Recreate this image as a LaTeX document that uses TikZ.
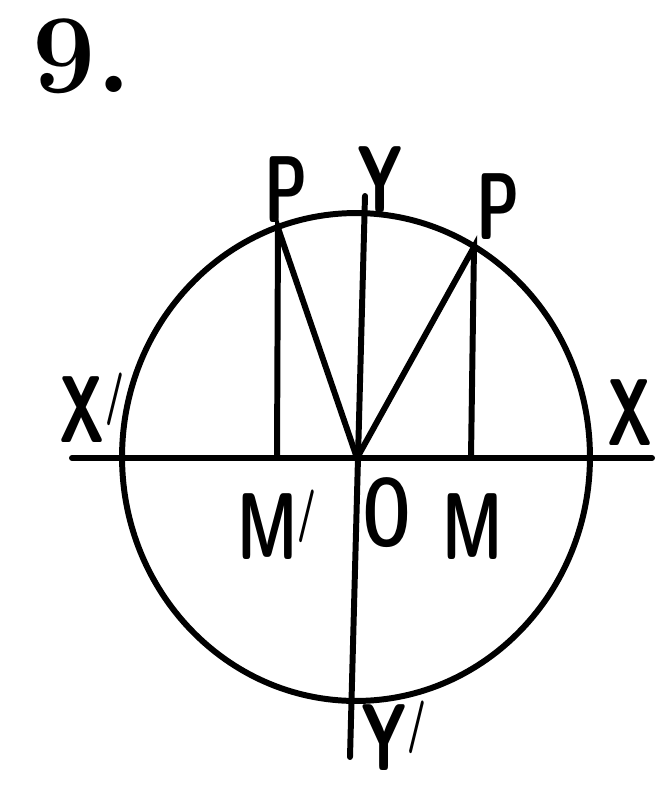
\documentclass[tikz,border=0pt]{standalone}
\usepackage{fontspec}
\usetikzlibrary{calc}
\tikzset{lbl/.style={font=\sffamily\bfseries\fontsize{54}{54}\selectfont,inner sep=0pt,xscale=0.65}}
\newcommand{\pr}{\raisebox{.32em}{\fontsize{30}{30}\selectfont/}}

\begin{document}
\begin{tikzpicture}[x=0.02cm,y=-0.02cm,line width=3.4pt,line cap=round]
  \useasboundingbox (0,0) rectangle (655,789);
  % numero
  \node[font=\bfseries\fontsize{64}{64}\selectfont,inner sep=0pt,anchor=base west] (num) at (30,92) {9.};
  % circulo
  \coordinate (O) at (357,458);
  \draw (356,457) ellipse [x radius=4.68cm, y radius=4.88cm];
  % ejes
  \coordinate (Xl) at (72,458);
  \coordinate (Xr) at (652,458);
  \coordinate (Yt) at (365,196);
  \coordinate (Yb) at (350,757);
  \draw (Xl) -- (Xr);
  \draw (Yt) -- (Yb);
  % puntos P, P y pies M, M'
  \coordinate (P) at (474,247);
  \coordinate (M) at (471,458);
  \coordinate (Q) at (278,228);
  \coordinate (Ml) at (277,458);
  \draw (O) -- (P) -- (M);
  \draw (O) -- (Q) -- (Ml);
  % rotulos
  \node[lbl] (lP) at (498,207) {P};
  \node[lbl] (lQ) at (286,190) {P};
  \node[lbl] (lY) at (380,180) {Y};
  \node[lbl] (lX) at (630,413) {X};
  \node[lbl] (lXl) at (92,408) {X\pr};
  \node[lbl] (lMl) at (277,525) {M\pr};
  \node[lbl] (lO) at (387,513) {O};
  \node[lbl] (lM) at (473,527) {M};
  \node[lbl] (lYl) at (394,736) {Y\pr};
\end{tikzpicture}
\end{document}
